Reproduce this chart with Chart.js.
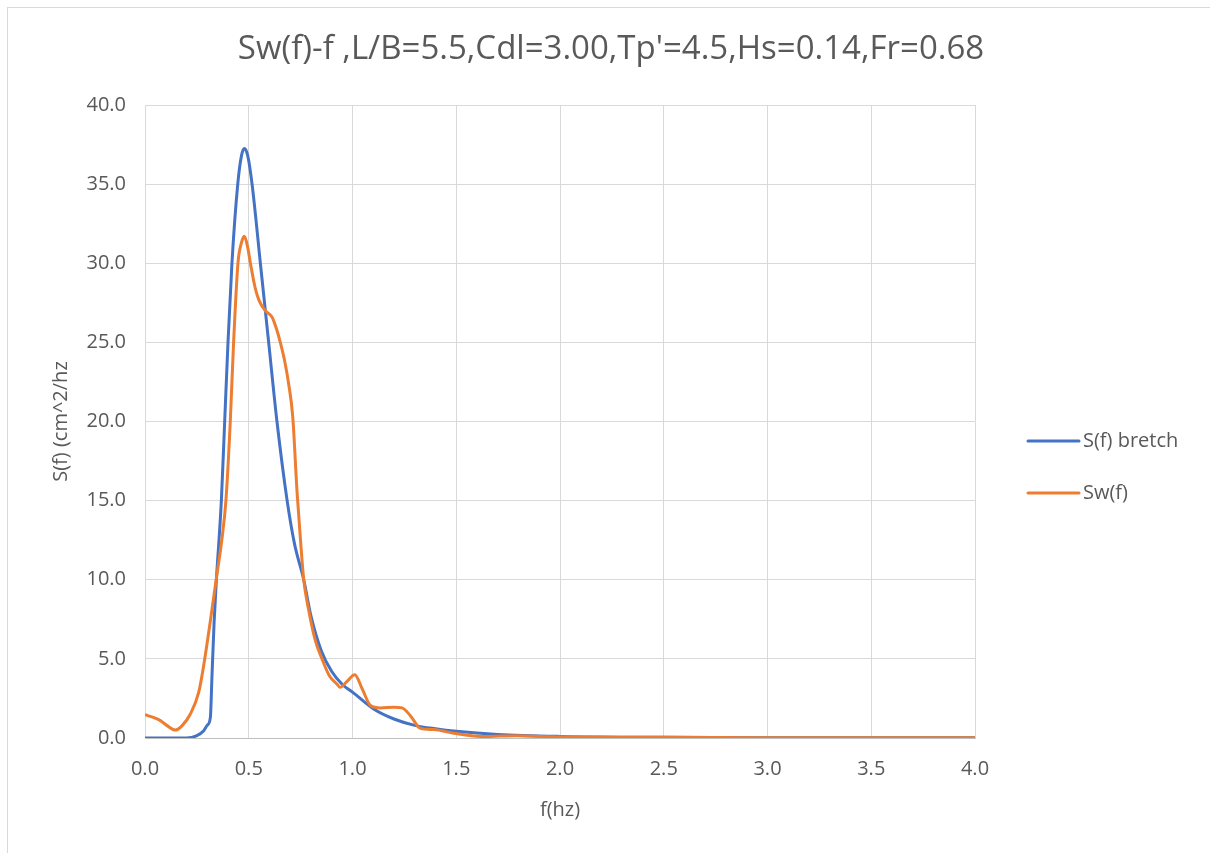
<!DOCTYPE html>
<html>
<head>
<meta charset="utf-8">
<script src="https://cdn.jsdelivr.net/npm/chart.js@4"></script>
<style>
  html, body { margin: 0; padding: 0; background: #fff; }
  #frame { position: absolute; left: 7px; top: 7px; width: 1210px; height: 853px; border-left: 1px solid #d9d9d9; border-top: 1px solid #d9d9d9; }
  #wrap { position: absolute; left: 0; top: 0; width: 1210px; height: 853px; }
</style>
</head>
<body>
<div id="frame"></div>
<div id="wrap"><canvas id="specChart" width="1210" height="853"></canvas></div>
<script>
  const chartTitle = "Sw(f)-f ,L/B=5.5,Cdl=3.00,Tp'=4.5,Hs=0.14,Fr=0.68";

  // S(f) bretch
  const fBretch = [0, 0.1, 0.2, 0.25, 0.283, 0.30, 0.315, 0.323, 0.333, 0.344, 0.368, 0.384, 0.40, 0.419, 0.447,
    0.465, 0.479, 0.495, 0.516, 0.556, 0.596, 0.636, 0.685, 0.72, 0.765, 0.80, 0.85, 0.90, 0.95, 1.0,
    1.1, 1.2, 1.3, 1.4, 1.5, 1.7, 2.0, 2.5, 3.0, 3.5, 4.0];
  const sBretch = [0, 0, 0, 0.15, 0.46, 0.8, 1.3, 4.0, 7.3, 10, 15, 20, 25, 30, 35,
    36.8, 37.25, 36.8, 35, 30, 25, 20, 15, 12.3, 10, 7.7, 5.5, 4.2, 3.4, 2.9,
    1.85, 1.2, 0.8, 0.58, 0.42, 0.22, 0.1, 0.04, 0.02, 0.01, 0.01];

  // Sw(f)
  const fSw = [0, 0.04, 0.074, 0.11, 0.146, 0.18, 0.218, 0.259, 0.283, 0.315, 0.343, 0.371, 0.39, 0.411,
    0.427, 0.448, 0.465, 0.479, 0.495, 0.508, 0.53, 0.548, 0.58, 0.612, 0.635, 0.652, 0.675, 0.692,
    0.712, 0.733, 0.75, 0.765, 0.789, 0.82, 0.853, 0.89, 0.926, 0.94, 0.975, 1.011, 1.047,
    1.087, 1.135, 1.2, 1.239, 1.279, 1.327, 1.392, 1.488, 1.633, 1.793, 1.954, 2.2, 2.5, 3.0, 3.5, 4.0];
  const sw = [1.47, 1.3, 1.1, 0.75, 0.5, 0.8, 1.5, 2.9, 4.6, 7.4, 10, 12.6, 15, 20,
    25, 30, 31.3, 31.7, 31.0, 30, 28.5, 27.7, 27.0, 26.6, 25.8, 25, 23.7, 22.4,
    20.3, 15.5, 12.4, 10, 8.07, 6.2, 5.0, 3.9, 3.4, 3.2, 3.6, 4.0, 3.1,
    2.05, 1.9, 1.95, 1.9, 1.41, 0.61, 0.53, 0.3, 0.09, 0.15, 0.08, 0.06, 0.04, 0.02, 0.01, 0.01];

  const seriesNames = ["S(f) bretch", "Sw(f)"];
  const xTicks = [0, 0.5, 1.0, 1.5, 2.0, 2.5, 3.0, 3.5, 4.0];
  const yTicks = [0, 5, 10, 15, 20, 25, 30, 35, 40];

  const grey = "#595959";
  const fontFam = "'Open Sans', 'Liberation Sans', sans-serif";

  function pairs(xs, ys) {
    return xs.map((x, i) => ({ x: x, y: ys[i] }));
  }

  // title + legend drawn by hand so they sit where the original ones are
  const sideBits = {
    id: "sideBits",
    afterDraw(chart) {
      const ctx = chart.ctx;
      ctx.save();
      ctx.fillStyle = grey;
      ctx.font = "33px " + fontFam;
      ctx.textAlign = "center";
      ctx.textBaseline = "middle";
      ctx.fillText(chartTitle, 611, 50);
      ctx.restore();

      chart.data.datasets.forEach((ds, i) => {
        const y = 441 + i * 52;
        ctx.save();
        ctx.strokeStyle = ds.borderColor;
        ctx.lineWidth = 3;
        ctx.lineCap = "round";
        ctx.beginPath();
        ctx.moveTo(1028, y);
        ctx.lineTo(1079, y);
        ctx.stroke();
        ctx.fillStyle = grey;
        ctx.font = "20px " + fontFam;
        ctx.textBaseline = "middle";
        ctx.fillText(ds.label, 1083, y);
        ctx.restore();
      });
    }
  };

  const ctx = document.getElementById("specChart");

  new Chart(ctx, {
    type: "line",
    data: {
      datasets: [
        {
          label: seriesNames[0],
          data: pairs(fBretch, sBretch),
          borderColor: "#4472C4",
          backgroundColor: "#4472C4",
          borderWidth: 3,
          pointRadius: 0,
          order: 1,
          cubicInterpolationMode: "monotone"
        },
        {
          label: seriesNames[1],
          data: pairs(fSw, sw),
          borderColor: "#ED7D31",
          backgroundColor: "#ED7D31",
          borderWidth: 3,
          pointRadius: 0,
          order: 0, // orange sits on top like in the original
          cubicInterpolationMode: "monotone"
        }
      ]
    },
    options: {
      responsive: false,
      animation: false,
      layout: { padding: { left: 0, right: 235, top: 105, bottom: 0 } },
      plugins: {
        legend: { display: false },
        tooltip: { enabled: false },
        title: { display: false }
      },
      scales: {
        x: {
          type: "linear",
          min: 0,
          max: 4,
          afterBuildTicks: function(scale) {
            scale.ticks = xTicks.map(v => ({ value: v }));
          },
          afterFit: function(scale) { scale.height = 115; },
          ticks: {
            color: grey,
            font: { family: fontFam, size: 20 },
            padding: 19,
            maxRotation: 0,
            callback: v => Number(v).toFixed(1)
          },
          grid: { color: "#d9d9d9", drawTicks: false },
          border: { color: "#bfbfbf" },
          title: {
            display: true,
            text: "f(hz)",
            color: grey,
            font: { family: fontFam, size: 20 },
            padding: { top: 0, bottom: 31 }
          }
        },
        y: {
          min: 0,
          max: 40,
          afterBuildTicks: function(scale) {
            scale.ticks = yTicks.map(v => ({ value: v }));
          },
          afterFit: function(scale) { scale.width = 145; },
          ticks: {
            color: grey,
            font: { family: fontFam, size: 20 },
            padding: 19,
            callback: v => Number(v).toFixed(1)
          },
          grid: { color: "#d9d9d9", drawTicks: false },
          border: { color: "#d9d9d9" },
          title: {
            display: true,
            text: "S(f) (cm^2/hz",
            color: grey,
            font: { family: fontFam, size: 20 },
            padding: { top: 49, bottom: 0 }
          }
        }
      }
    },
    plugins: [sideBits]
  });
</script>
</body>
</html>
